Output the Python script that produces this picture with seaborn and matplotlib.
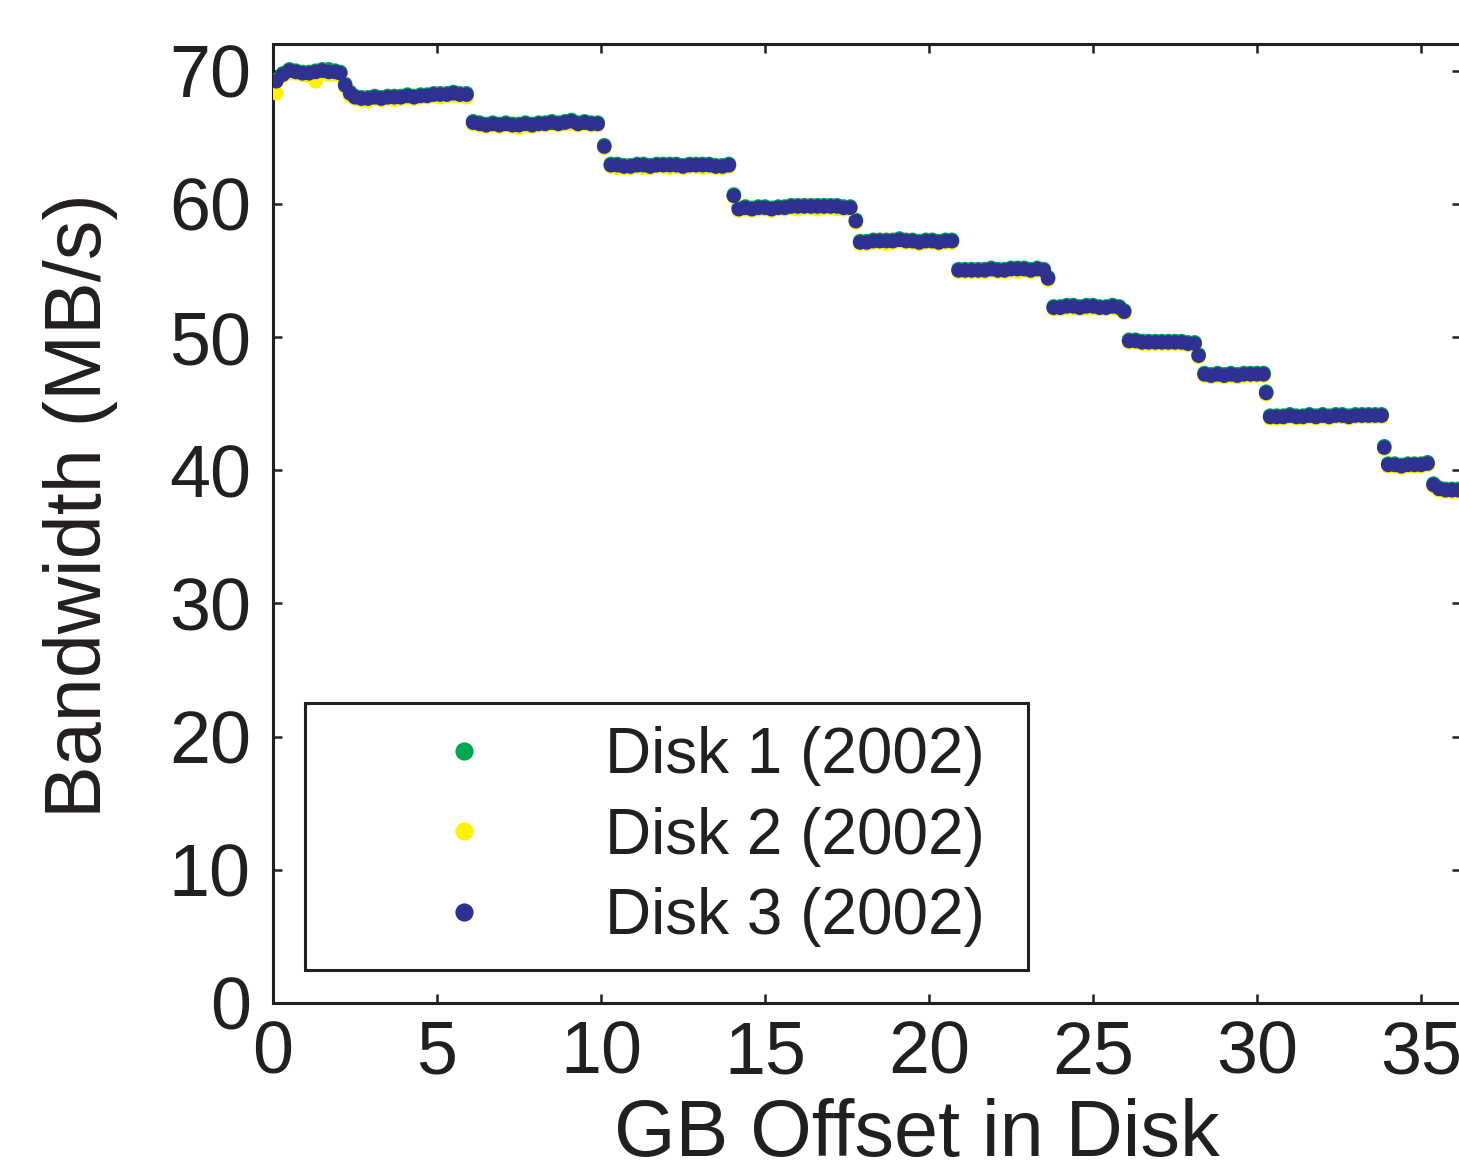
import numpy as np
import pandas as pd
import matplotlib
matplotlib.use("Agg")
import matplotlib.pyplot as plt
import seaborn as sns

# ---------------- data ----------------
x_offset_gb = [
    0.1,
    0.3, 0.5, 0.7, 0.9, 1.1, 1.3, 1.5, 1.7, 1.9, 2.05,
    2.2, 2.35, 2.5, 2.7, 2.9, 3.1, 3.3, 3.5, 3.7, 3.9, 4.1, 4.3, 4.5, 4.7, 4.9, 5.1, 5.3, 5.5, 5.7, 5.9,
    6.1, 6.3, 6.5, 6.7, 6.9, 7.1, 7.3, 7.5, 7.7, 7.9, 8.1, 8.3, 8.5, 8.7, 8.9, 9.1, 9.3, 9.5, 9.7, 9.9,
    10.1, 10.3, 10.5, 10.7, 10.9, 11.1, 11.3, 11.5, 11.7, 11.9, 12.1, 12.3, 12.5, 12.7, 12.9, 13.1, 13.3, 13.5, 13.7, 13.9,
    14.05, 14.2, 14.4, 14.6, 14.8, 15.0, 15.2, 15.4, 15.6, 15.8, 16.0, 16.2, 16.4, 16.6, 16.8, 17.0, 17.2, 17.4, 17.6,
    17.77, 17.9, 18.1, 18.3, 18.5, 18.7, 18.9, 19.1, 19.3, 19.5, 19.7, 19.9, 20.1, 20.3, 20.5, 20.7,
    20.9, 21.1, 21.3, 21.5, 21.7, 21.9, 22.1, 22.3, 22.5, 22.7, 22.9, 23.1, 23.3, 23.5, 23.63,
    23.8, 24.0, 24.2, 24.4, 24.6, 24.8, 25.0, 25.2, 25.4, 25.6, 25.8, 25.95,
    26.1, 26.3, 26.5, 26.7, 26.9, 27.1, 27.3, 27.5, 27.7, 27.9, 28.1, 28.22,
    28.4, 28.6, 28.8, 29.0, 29.2, 29.4, 29.6, 29.8, 30.0, 30.2, 30.28,
    30.4, 30.6, 30.8, 31.0, 31.2, 31.4, 31.6, 31.8, 32.0, 32.2, 32.4, 32.6, 32.8, 33.0, 33.2, 33.4, 33.6, 33.8, 33.88,
    34.0, 34.2, 34.4, 34.6, 34.8, 35.0, 35.2,
    35.38, 35.55, 35.75, 35.95, 36.15, 36.35,
]

disk1_mbps = [
    69.3,
    69.8, 70.1, 70.0, 69.9, 69.9, 70.0, 70.1, 70.1, 70.0, 69.9,
    69.0, 68.4, 68.1, 68.0, 68.0, 68.1, 68.0, 68.1, 68.1, 68.1, 68.2, 68.1, 68.2, 68.2, 68.3, 68.3, 68.3, 68.4, 68.3, 68.3,
    66.2, 66.1, 66.0, 66.1, 66.0, 66.1, 66.0, 66.0, 66.1, 66.0, 66.1, 66.1, 66.2, 66.1, 66.2, 66.3, 66.1, 66.2, 66.1, 66.1,
    64.4, 63.0, 63.0, 62.9, 62.9, 63.0, 63.0, 62.9, 63.0, 63.0, 63.0, 63.0, 62.9, 63.0, 63.0, 63.0, 63.0, 62.9, 62.9, 63.0,
    60.7, 59.7, 59.8, 59.7, 59.8, 59.8, 59.7, 59.8, 59.8, 59.9, 59.9, 59.9, 59.9, 59.9, 59.9, 59.9, 59.9, 59.8, 59.8,
    58.8, 57.2, 57.2, 57.3, 57.3, 57.3, 57.3, 57.4, 57.3, 57.3, 57.2, 57.3, 57.3, 57.2, 57.3, 57.3,
    55.1, 55.1, 55.1, 55.1, 55.1, 55.2, 55.1, 55.1, 55.2, 55.2, 55.2, 55.1, 55.2, 55.1, 54.5,
    52.3, 52.3, 52.4, 52.4, 52.3, 52.4, 52.4, 52.3, 52.3, 52.4, 52.3, 52.0,
    49.8, 49.8, 49.7, 49.7, 49.7, 49.7, 49.7, 49.7, 49.7, 49.6, 49.6, 48.7,
    47.3, 47.2, 47.3, 47.2, 47.3, 47.2, 47.3, 47.3, 47.3, 47.3, 45.9,
    44.1, 44.1, 44.1, 44.2, 44.1, 44.1, 44.2, 44.1, 44.2, 44.1, 44.2, 44.2, 44.1, 44.2, 44.2, 44.2, 44.2, 44.2, 41.8,
    40.5, 40.5, 40.4, 40.5, 40.5, 40.5, 40.6,
    39.0, 38.7, 38.6, 38.6, 38.6, 38.6,
]

disk2_mbps = [
    68.3,
    69.6, 69.8, 69.8, 69.7, 69.6, 69.2, 69.8, 69.7, 69.7, 69.7,
    68.8, 68.1, 67.9, 67.8, 67.7, 67.9, 67.8, 67.9, 67.8, 67.9, 68.0, 67.9, 68.0, 68.0, 68.1, 68.0, 68.1, 68.1, 68.1, 68.0,
    66.0, 65.9, 65.8, 65.9, 65.8, 65.9, 65.8, 65.7, 65.9, 65.8, 65.9, 65.9, 66.0, 65.9, 66.0, 66.0, 65.9, 66.0, 65.9, 65.9,
    64.2, 62.8, 62.7, 62.7, 62.7, 62.8, 62.7, 62.7, 62.8, 62.8, 62.7, 62.8, 62.7, 62.8, 62.8, 62.7, 62.8, 62.7, 62.7, 62.8,
    60.5, 59.5, 59.6, 59.5, 59.6, 59.6, 59.5, 59.6, 59.6, 59.7, 59.6, 59.7, 59.7, 59.6, 59.7, 59.7, 59.6, 59.6, 59.6,
    58.6, 57.0, 57.0, 57.1, 57.1, 57.0, 57.1, 57.2, 57.1, 57.1, 57.0, 57.1, 57.1, 57.0, 57.1, 57.1,
    54.9, 54.9, 54.9, 54.9, 54.9, 55.0, 54.9, 54.9, 55.0, 54.9, 55.0, 54.9, 55.0, 54.9, 54.3,
    52.1, 52.1, 52.2, 52.2, 52.1, 52.2, 52.2, 52.1, 52.1, 52.2, 52.1, 51.8,
    49.6, 49.6, 49.5, 49.5, 49.5, 49.5, 49.5, 49.5, 49.5, 49.4, 49.4, 48.5,
    47.1, 47.0, 47.1, 47.0, 47.1, 47.0, 47.1, 47.1, 47.1, 47.1, 45.7,
    43.9, 43.9, 43.9, 44.0, 43.9, 43.9, 44.0, 43.9, 44.0, 43.9, 44.0, 44.0, 43.9, 44.0, 44.0, 44.0, 44.0, 44.0, 41.6,
    40.3, 40.3, 40.2, 40.3, 40.3, 40.3, 40.4,
    38.8, 38.5, 38.4, 38.4, 38.4, 38.4,
]

disk3_mbps = [
    69.2,
    69.7, 70.0, 69.9, 69.8, 69.8, 69.9, 70.0, 69.9, 69.9, 69.8,
    68.9, 68.3, 68.0, 67.9, 67.9, 68.0, 67.9, 68.0, 68.0, 68.0, 68.1, 68.0, 68.1, 68.1, 68.2, 68.2, 68.2, 68.3, 68.2, 68.2,
    66.1, 66.0, 65.9, 66.0, 65.9, 66.0, 65.9, 65.9, 66.0, 65.9, 66.0, 66.0, 66.1, 66.0, 66.1, 66.2, 66.0, 66.1, 66.0, 66.0,
    64.3, 62.9, 62.9, 62.8, 62.8, 62.9, 62.9, 62.8, 62.9, 62.9, 62.9, 62.9, 62.8, 62.9, 62.9, 62.9, 62.9, 62.8, 62.8, 62.9,
    60.6, 59.6, 59.7, 59.6, 59.7, 59.7, 59.6, 59.7, 59.7, 59.8, 59.8, 59.8, 59.8, 59.8, 59.8, 59.8, 59.8, 59.7, 59.7,
    58.7, 57.1, 57.1, 57.2, 57.2, 57.2, 57.2, 57.3, 57.2, 57.2, 57.1, 57.2, 57.2, 57.1, 57.2, 57.2,
    55.0, 55.0, 55.0, 55.0, 55.0, 55.1, 55.0, 55.0, 55.1, 55.1, 55.1, 55.0, 55.1, 55.0, 54.4,
    52.2, 52.2, 52.3, 52.3, 52.2, 52.3, 52.3, 52.2, 52.2, 52.3, 52.2, 51.9,
    49.7, 49.7, 49.6, 49.6, 49.6, 49.6, 49.6, 49.6, 49.6, 49.5, 49.5, 48.6,
    47.2, 47.1, 47.2, 47.1, 47.2, 47.1, 47.2, 47.2, 47.2, 47.2, 45.8,
    44.0, 44.0, 44.0, 44.1, 44.0, 44.0, 44.1, 44.0, 44.1, 44.0, 44.1, 44.1, 44.0, 44.1, 44.1, 44.1, 44.1, 44.1, 41.7,
    40.4, 40.4, 40.3, 40.4, 40.4, 40.4, 40.5,
    38.9, 38.6, 38.5, 38.5, 38.5, 38.5,
]

series_labels = ["Disk 1 (2002)", "Disk 2 (2002)", "Disk 3 (2002)"]
series_colors = ["#00A651", "#FFF200", "#2E3192"]
x_ticks = [0, 5, 10, 15, 20, 25, 30, 35]
y_ticks = [0, 10, 20, 30, 40, 50, 60, 70]

# ---------------- build table ----------------
frames = []
for lab, vals in zip(series_labels, [disk1_mbps, disk2_mbps, disk3_mbps]):
    frames.append(pd.DataFrame({"offset": x_offset_gb, "bw": vals, "disk": lab}))
df = pd.concat(frames, ignore_index=True)

# ---------------- style ----------------
sns.set_style("ticks")
plt.rcParams["font.family"] = ["Liberation Sans", "DejaVu Sans"]
plt.rcParams["text.color"] = "#231F20"
plt.rcParams["axes.labelcolor"] = "#231F20"
plt.rcParams["xtick.color"] = "#231F20"
plt.rcParams["ytick.color"] = "#231F20"

W, H = 1459, 1170
fig = plt.figure(figsize=(W / 100, H / 100), dpi=100)
ax = fig.add_axes([273 / W, (H - 1003) / H, (1461 - 273) / W, (1003 - 44) / H])

sns.scatterplot(data=df, x="offset", y="bw", hue="disk", hue_order=series_labels,
                palette=series_colors, s=110, linewidth=0, edgecolor="none",
                ax=ax, legend=True, zorder=3)

ax.set_xlim(0, (1461 - 273) / 32.8)
ax.set_ylim(0, 72)
ax.set_xticks(x_ticks)
ax.set_yticks(y_ticks)
ax.set_xticklabels([str(t) for t in x_ticks])
ax.set_yticklabels([str(t) for t in y_ticks])

for sp in ax.spines.values():
    sp.set_visible(True)
    sp.set_linewidth(2.2)
    sp.set_color("#231F20")

ax.tick_params(axis="both", which="major", direction="in", length=6.5, width=1.8,
               top=True, right=True, labelsize=53)
ax.tick_params(axis="x", pad=12)
ax.tick_params(axis="y", pad=16)

ax.set_xlabel("GB Offset in Disk", fontsize=57)
ax.set_ylabel("Bandwidth (MB/s)", fontsize=57)
ax.xaxis.set_label_coords((917 - 273) / 1188, (1003 - 1098) / 959)
ax.yaxis.set_label_coords((118 - 273) / 1188, (1003 - 506) / 959)

handles, labels = ax.get_legend_handles_labels()
leg = ax.legend(handles, labels, loc="lower left",
                bbox_to_anchor=((305 - 273) / 1188, (1003 - 970) / 959,
                                (1028 - 305) / 1188, (970 - 704) / 959),
                mode="expand", fontsize=46, frameon=True, fancybox=False,
                edgecolor="#231F20", framealpha=1, borderpad=0.36,
                handlelength=4.25, handletextpad=0.08, labelspacing=0.32,
                borderaxespad=0, markerscale=1.25)
leg.get_frame().set_linewidth(2.2)

fig.savefig("out.png", dpi=100, facecolor="white")
